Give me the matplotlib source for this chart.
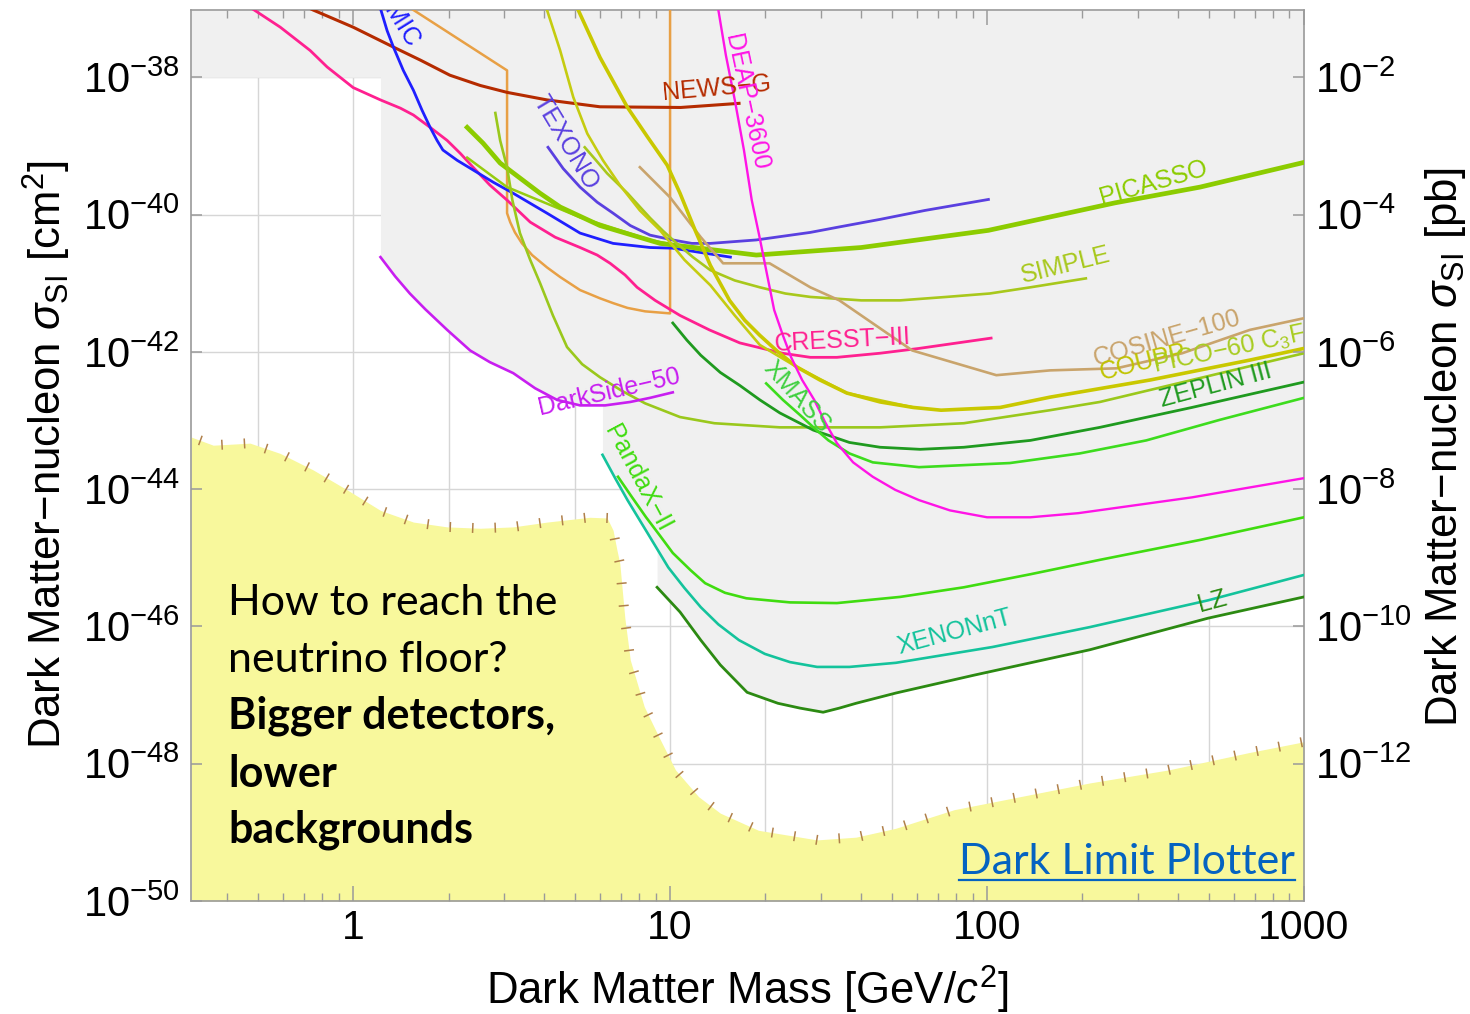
import numpy as np
import matplotlib
matplotlib.use("Agg")
import matplotlib.pyplot as plt
from matplotlib.ticker import FixedLocator, FuncFormatter, LogFormatterSciNotation, NullLocator
from matplotlib.collections import LineCollection

plt.rcParams['font.family'] = ['Liberation Sans', 'DejaVu Sans']
plt.rcParams['mathtext.fontset'] = 'custom'
plt.rcParams['mathtext.rm'] = 'Liberation Sans'
plt.rcParams['mathtext.it'] = 'Liberation Sans:italic'
plt.rcParams['mathtext.bf'] = 'Liberation Sans:bold'

# ---------------- limits: WIMP mass [GeV/c^2] and log10 sigma_SI [cm^2] ----------------
newsg_m = [0.60, 0.748, 1.00, 1.34, 1.63, 2.02, 2.52, 3.06, 4.09, 6.01, 10.8, 16.5]
newsg_ls = [-36.80, -37.02, -37.27, -37.56, -37.75, -37.97, -38.12, -38.22, -38.33, -38.43, -38.44, -38.38]

damic_m = [1.19, 1.22, 1.28, 1.34, 1.44, 1.55, 1.65, 1.75, 1.84, 1.92, 2.13, 2.39, 2.77, 3.20,
           4.09, 5.20, 6.61, 8.65, 10.2, 15.5]
damic_ls = [-36.85, -37.00, -37.32, -37.56, -37.90, -38.19, -38.48, -38.73, -38.92, -39.06, -39.21,
            -39.35, -39.53, -39.69, -39.98, -40.27, -40.42, -40.48, -40.49, -40.62]

texono_m = [4.12, 4.60, 5.20, 5.89, 6.61, 7.49, 8.65, 10.2, 11.7, 13.4, 18.7, 27.7, 34.2, 46.0, 63.7, 101]
texono_ls = [-39.02, -39.33, -39.60, -39.82, -39.98, -40.16, -40.30, -40.37, -40.42, -40.42, -40.37,
             -40.26, -40.18, -40.07, -39.94, -39.78]

cresst_m = [0.44, 0.48, 0.589, 0.732, 0.828, 1.00, 1.22, 1.41, 1.55, 1.75, 1.98, 2.18, 2.39, 2.70,
            3.06, 3.62, 4.34, 5.20, 5.89, 6.47, 7.21, 7.87, 8.97, 10.75, 13.3, 16.6, 22.6, 27.7,
            33.6, 46.0, 61.0, 103]
cresst_ls = [-36.88, -37.00, -37.27, -37.61, -37.85, -38.15, -38.33, -38.45, -38.55, -38.73, -38.92,
             -39.11, -39.31, -39.57, -39.79, -40.11, -40.33, -40.48, -40.59, -40.71, -40.88, -41.06,
             -41.25, -41.47, -41.68, -41.87, -42.02, -42.08, -42.08, -42.02, -41.95, -41.80]

lowmass_m = [1.39, 1.55, 3.06, 3.06, 3.13, 3.24, 3.41, 3.67, 4.09, 4.50, 5.20, 6.01, 6.61, 7.34,
             8.34, 10.0, 10.0]
lowmass_ls = [-36.88, -37.02, -37.90, -39.98, -40.11, -40.26, -40.42, -40.59, -40.77, -40.91, -41.10,
              -41.22, -41.29, -41.36, -41.41, -41.44, -36.90]

picasso_m = [2.29, 2.57, 2.91, 3.89, 4.50, 6.01, 9.30, 18.7, 40.1, 101, 253, 470, 1000]
picasso_ls = [-38.73, -38.96, -39.25, -39.69, -39.89, -40.16, -40.42, -40.59, -40.48, -40.23, -39.83,
              -39.60, -39.24]

bubble_m = [2.29, 3.06, 5.20, 8.65, 12.5, 19.2]
bubble_ls = [-39.17, -39.60, -40.04, -40.37, -40.52, -40.59]

simple_m = [5.38, 5.84, 6.33, 6.80, 7.34, 7.93, 8.65, 9.51, 10.5, 11.8, 13.4, 16.0, 19.2, 23.1,
            27.7, 40.1, 53.2, 74.4, 102, 137, 205]
simple_ls = [-39.02, -39.21, -39.40, -39.54, -39.69, -39.86, -40.05, -40.24, -40.42, -40.62, -40.81,
             -40.96, -41.06, -41.15, -41.20, -41.25, -41.25, -41.20, -41.15, -41.06, -40.93]

cosine_m = [8.03, 10.0, 12.5, 14.7, 20.6, 27.7, 34.2, 58.1, 107, 158, 256, 413, 675, 1000]
cosine_ls = [-39.31, -39.75, -40.33, -40.71, -40.71, -41.06, -41.25, -41.98, -42.34, -42.27, -42.24,
             -42.02, -41.68, -41.51]

coupp_m = [4.95, 5.13, 6.01, 7.34, 8.49, 9.79, 10.75, 12.0, 13.4, 15.4, 17.2, 19.2, 21.9, 25.1,
           29.7, 36.1, 46.0, 58.5, 71.6, 110, 158, 327, 675, 1000]
coupp_ls = [-36.88, -37.02, -37.71, -38.44, -38.87, -39.28, -39.69, -40.23, -40.74, -41.25, -41.54,
            -41.76, -42.00, -42.22, -42.41, -42.60, -42.73, -42.81, -42.85, -42.81, -42.66, -42.41,
            -42.12, -41.95]

picocf3i_m = [4.00, 4.09, 4.50, 4.95, 5.48, 6.14, 6.94, 8.03, 9.30, 11.1, 13.4, 16.0, 19.2, 25.1, 36.1, 58.5]
picocf3i_ls = [-36.90, -37.02, -37.61, -38.29, -38.82, -39.21, -39.57, -39.94, -40.23, -40.66, -41.03,
               -41.47, -41.90, -42.22, -42.60, -42.81]

pico60_m = [2.81, 2.91, 3.06, 3.18, 3.36, 3.62, 3.89, 4.27, 4.73, 5.28, 6.01, 7.06, 8.34, 10.75,
            13.8, 22.2, 46.0, 84.5, 158, 227, 443, 1000]
pico60_ls = [-38.52, -38.92, -39.31, -39.79, -40.27, -40.66, -41.00, -41.47, -41.93, -42.18, -42.37,
             -42.57, -42.75, -42.95, -43.04, -43.10, -43.10, -43.04, -42.85, -42.73, -42.41, -42.02]

zeplin_m = [10.2, 11.3, 12.5, 14.4, 16.6, 19.2, 22.2, 28.3, 36.8, 46.0, 61.5, 84.5, 137, 227, 443, 1000]
zeplin_ls = [-41.58, -41.83, -42.05, -42.30, -42.49, -42.70, -42.89, -43.14, -43.32, -43.39, -43.42,
             -43.39, -43.29, -43.10, -42.81, -42.44]

xmass_m = [20.1, 22.7, 25.7, 28.5, 31.6, 36.8, 43.6, 61.0, 118, 196, 318, 543, 1000]
xmass_ls = [-42.46, -42.70, -42.92, -43.11, -43.29, -43.48, -43.61, -43.68, -43.62, -43.48, -43.29,
            -42.99, -42.67]

deap_m = [13.9, 14.2, 15.0, 16.0, 17.1, 18.1, 19.1, 20.1, 21.3, 22.7, 24.1, 26.1, 28.5, 30.8, 33.6,
          37.8, 43.6, 51.3, 61.0, 76.4, 100, 137, 194, 443, 1000]
deap_ls = [-36.88, -37.02, -37.68, -38.33, -39.06, -39.79, -40.30, -40.81, -41.39, -41.76, -42.08,
           -42.41, -42.70, -43.02, -43.33, -43.61, -43.82, -44.01, -44.16, -44.31, -44.41, -44.41,
           -44.35, -44.12, -43.84]

darkside_m = [1.22, 1.357, 1.51, 1.69, 1.98, 2.34, 2.70, 3.20, 3.75, 4.40, 5.20, 6.24, 7.49, 8.65, 10.2]
darkside_ls = [-40.62, -40.90, -41.15, -41.38, -41.68, -41.98, -42.15, -42.31, -42.53, -42.70, -42.78,
               -42.78, -42.73, -42.67, -42.59]

pandax_m = [6.85, 7.59, 8.40, 9.30, 10.2, 11.6, 12.9, 14.9, 17.4, 23.9, 33.6, 53.2, 84.5, 137, 227, 470, 1000]
pandax_ls = [-43.82, -44.12, -44.41, -44.68, -44.93, -45.18, -45.37, -45.51, -45.59, -45.65, -45.66,
             -45.57, -45.43, -45.24, -45.03, -44.74, -44.41]

xenonnt_m = [6.12, 6.71, 7.34, 8.49, 9.87, 11.1, 12.5, 14.2, 16.5, 19.9, 23.9, 29.1, 36.8, 51.6,
             104, 211, 498, 1000]
xenonnt_ls = [-43.50, -43.84, -44.16, -44.64, -45.14, -45.44, -45.72, -45.97, -46.20, -46.40, -46.52,
              -46.59, -46.59, -46.53, -46.30, -46.01, -45.62, -45.25]

lz_m = [9.10, 10.75, 12.5, 14.4, 17.5, 21.9, 25.7, 30.4, 34.2, 38.6, 51.6, 91.0, 211, 498, 1000]
lz_ls = [-45.43, -45.79, -46.20, -46.56, -46.96, -47.12, -47.19, -47.25, -47.19, -47.12, -46.97,
         -46.71, -46.34, -45.88, -45.57]

# neutrino floor (upper edge of the yellow band)
floor_m = [0.308, 0.362, 0.473, 0.589, 0.748, 0.957, 1.22, 1.55, 1.98, 2.52, 3.20, 4.09, 5.58, 6.33,
           6.61, 6.80, 6.94, 7.20, 7.49, 8.29, 9.22, 10.4, 12.3, 14.4, 19.0, 29.1, 38.6, 51.6, 78.7,
           121, 211, 374, 667, 1000]
floor_ls = [-43.24, -43.36, -43.33, -43.48, -43.72, -44.01, -44.31, -44.48, -44.55, -44.57, -44.55,
            -44.48, -44.41, -44.42, -44.60, -44.89, -45.08, -45.88, -46.49, -47.17, -47.61, -48.09,
            -48.48, -48.72, -48.97, -49.11, -49.07, -48.94, -48.67, -48.50, -48.28, -48.09, -47.84, -47.68]

# lower edge of the combined excluded region
excl_m = [0.308, 1.22, 1.22, 1.357, 1.51, 1.69, 1.98, 2.34, 2.70, 3.20, 3.75, 4.40, 5.20, 6.12,
          6.12, 6.71, 7.34, 8.49, 9.10, 9.10, 10.75, 12.5, 14.4, 17.5, 21.9, 25.7, 30.4, 34.2, 38.6,
          51.6, 91.0, 211, 498, 1000]
excl_ls = [-38.0, -38.0, -40.62, -40.90, -41.15, -41.38, -41.68, -41.98, -42.15, -42.31, -42.53,
           -42.70, -42.78, -42.78, -43.50, -43.84, -44.16, -44.64, -44.88, -45.43, -45.79, -46.20,
           -46.56, -46.96, -47.12, -47.19, -47.25, -47.19, -47.12, -46.97, -46.71, -46.34, -45.88, -45.57]

x_ticks = [1, 10, 100, 1000]
y_ticks_exp = [-50, -48, -46, -44, -42, -40, -38]
x_grid = [0.5, 1, 2, 5, 10, 20, 50, 100, 200, 500]

XMIN, XMAX = 0.308, 1000
YMIN, YMAX = 1e-50, 10 ** -37.02

W, H = 1470, 1014
fig = plt.figure(figsize=(W / 100, H / 100), dpi=100)
ax = fig.add_axes([191 / W, 1 - 901 / H, (1304 - 191) / W, (901 - 10) / H])
ax.set_xscale('log')
ax.set_yscale('log')
ax.set_xlim(XMIN, XMAX)
ax.set_ylim(YMIN, YMAX)

def sig(ls):
    return 10.0 ** np.asarray(ls)

# grid
for g in x_grid:
    ax.axvline(g, color='#d6d6d6', lw=1.0, zorder=0.5)
for e in y_ticks_exp[1:]:
    ax.axhline(10.0 ** e, color='#d6d6d6', lw=1.0, zorder=0.5)

# excluded region and neutrino floor
ax.fill_between(excl_m, sig(excl_ls), YMAX, color='#f0f0f0', lw=0, zorder=1)
ax.fill_between(floor_m, sig(floor_ls), YMIN, color='#f8f89c', lw=0, zorder=1.2)

curves = [
    (lowmass_m, lowmass_ls, '#e8a045', 1.8),
    (newsg_m, newsg_ls, '#b52b00', 2.2),
    (cresst_m, cresst_ls, '#ff2090', 2.0),
    (damic_m, damic_ls, '#1f1fff', 2.0),
    (texono_m, texono_ls, '#5a40e0', 2.0),
    (bubble_m, bubble_ls, '#96cc10', 1.8),
    (picasso_m, picasso_ls, '#8ccc00', 3.4),
    (simple_m, simple_ls, '#a8c81c', 1.9),
    (cosine_m, cosine_ls, '#c9a46c', 1.9),
    (picocf3i_m, picocf3i_ls, '#c5cc10', 1.9),
    (coupp_m, coupp_ls, '#c9c800', 2.6),
    (pico60_m, pico60_ls, '#9ac81c', 1.9),
    (darkside_m, darkside_ls, '#c81ef0', 1.9),
    (zeplin_m, zeplin_ls, '#1f9a1f', 2.0),
    (xmass_m, xmass_ls, '#3ddc1e', 1.9),
    (deap_m, deap_ls, '#ff14e6', 1.7),
    (pandax_m, pandax_ls, '#40dc10', 1.9),
    (xenonnt_m, xenonnt_ls, '#14c39c', 1.9),
    (lz_m, lz_ls, '#2c8a12', 2.0),
]
for m, ls, c, lw in curves:
    ax.plot(m, sig(ls), color=c, lw=lw, zorder=3, solid_joinstyle='round')

# hatch marks along the neutrino floor, spaced evenly along the drawn edge
pts = ax.transData.transform(np.column_stack([floor_m, sig(floor_ls)]))
seg = np.diff(pts, axis=0)
seglen = np.hypot(seg[:, 0], seg[:, 1])
cum = np.concatenate([[0], np.cumsum(seglen)])
inv = ax.transData.inverted()
marks = []
for s in np.arange(10.0, cum[-1], 22.5):
    i = min(np.searchsorted(cum, s) - 1, len(seg) - 1)
    f = (s - cum[i]) / seglen[i]
    p = pts[i] + f * seg[i]
    t = seg[i] / seglen[i]
    n = np.array([-t[1], t[0]])
    marks.append([inv.transform(p - 5 * n), inv.transform(p + 5 * n)])
ax.add_collection(LineCollection(marks, colors='#b0804a', linewidths=1.1, zorder=1.5))

# experiment labels
lab = dict(fontsize=18, ha='center', va='center', rotation_mode='anchor', zorder=4, clip_on=True)
ax.text(1.55, 10 ** -37.53, 'DAMIC', color='#1f1fff', rotation=-58, **{**lab, 'ha': 'right'})
ax.text(4.70, 10 ** -38.95, 'TEXONO', color='#5a40e0', rotation=-59, **lab)
ax.text(14.0, 10 ** -38.16, 'NEWS\u2212G', color='#b52b00', rotation=5, **lab)
ax.text(17.4, 10 ** -38.36, 'DEAP\u22123600', color='#ff14e6', rotation=-78, **lab)
ax.text(334, 10 ** -39.54, 'PICASSO', color='#8ccc00', rotation=16, **lab)
ax.text(177, 10 ** -40.74, 'SIMPLE', color='#a8c81c', rotation=14, **lab)
ax.text(35.1, 10 ** -41.83, 'CRESST\u2212III', color='#ff2090', rotation=3, **lab)
ax.text(370, 10 ** -41.80, 'COSINE\u2212100', color='#c9a46c', rotation=16, **lab)
ax.text(311, 10 ** -42.16, 'COUPP', color='#c0c400', rotation=14, **lab)
ax.text(334, 10 ** -42.21, 'PICO\u221260 C$_3$F$_8$', color='#a8cc20', rotation=12,
        **{**lab, 'ha': 'left'})
ax.text(528, 10 ** -42.49, 'ZEPLIN III', color='#1f9a1f', rotation=15, **lab)
ax.text(25.2, 10 ** -42.65, 'XMASS', color='#40d040', rotation=-48, **lab)
ax.text(6.42, 10 ** -42.59, 'DarkSide\u221250', color='#c81ef0', rotation=13, **lab)
ax.text(7.93, 10 ** -43.84, 'PandaX\u2212II', color='#40dc10', rotation=-62, **lab)
ax.text(79.3, 10 ** -46.08, 'XENONnT', color='#14c39c', rotation=15, **lab)
ax.text(513, 10 ** -45.63, 'LZ', color='#2c8a12', rotation=15, **lab)

# axes styling
frame = '#9a9a9a'
for sp in ax.spines.values():
    sp.set_color(frame)
    sp.set_linewidth(1.2)
ax.xaxis.set_major_locator(FixedLocator(x_ticks))
ax.xaxis.set_major_formatter(FuncFormatter(lambda v, p: f'{v:g}'))
ax.xaxis.set_minor_locator(FixedLocator([k * 10.0 ** d for d in range(-1, 3) for k in range(2, 10)]))
ax.yaxis.set_major_locator(FixedLocator([10.0 ** e for e in y_ticks_exp]))
ax.yaxis.set_major_formatter(LogFormatterSciNotation())
ax.yaxis.set_minor_locator(NullLocator())
ax.tick_params(axis='x', which='major', direction='in', top=True, length=11, width=1.1,
               color=frame, labelsize=29.5, pad=6)
ax.tick_params(axis='x', which='minor', direction='in', top=True, length=6, width=1.0, color=frame)
ax.tick_params(axis='y', which='major', direction='in', length=8, width=1.1, color=frame,
               labelsize=30, pad=8)

ax2 = ax.twinx()
ax2.set_yscale('log')
ax2.set_ylim(YMIN * 1e36, YMAX * 1e36)
ax2.yaxis.set_major_locator(FixedLocator([10.0 ** (e + 36) for e in y_ticks_exp[1:]]))
ax2.yaxis.set_major_formatter(LogFormatterSciNotation())
ax2.yaxis.set_minor_locator(NullLocator())
ax2.tick_params(axis='y', which='major', direction='in', length=8, width=1.1, color=frame,
                labelsize=30, pad=8)
for sp in ax2.spines.values():
    sp.set_visible(False)

# axis titles
fig.text(747 / W, 1 - 990 / H, 'Dark Matter Mass [GeV/$c^2$]', fontsize=31.5, ha='center', va='center')
fig.text(47 / W, 1 - 455 / H, 'Dark Matter\u2212nucleon $\\sigma_{\\mathrm{SI}}$ [cm$^2$]',
         fontsize=31.5, ha='center', va='center', rotation=90)
fig.text(1445 / W, 1 - 447 / H, 'Dark Matter\u2212nucleon $\\sigma_{\\mathrm{SI}}$ [pb]',
         fontsize=31.5, ha='center', va='center', rotation=90)

# annotation in the neutrino-floor band
note = dict(family='Lato', fontsize=31, ha='left', va='baseline', color='black')
fig.text(228 / W, 1 - 615 / H, 'How to reach the', **note)
fig.text(228 / W, 1 - 672 / H, 'neutrino floor?', **note)
fig.text(228 / W, 1 - 729 / H, 'Bigger detectors,', weight='bold', **note)
fig.text(228 / W, 1 - 787 / H, 'lower', weight='bold', **note)
fig.text(228 / W, 1 - 843 / H, 'backgrounds', weight='bold', **note)

link = fig.text(1295 / W, 1 - 874 / H, 'Dark Limit Plotter', family='Lato', fontsize=31,
                ha='right', va='baseline', color='#0563c1')
renderer = fig.canvas.get_renderer()
bb = link.get_window_extent(renderer)
fig.add_artist(plt.Line2D([bb.x0 / W, bb.x1 / W], [1 - 880 / H, 1 - 880 / H],
                          color='#0563c1', lw=1.6, transform=fig.transFigure))

fig.savefig('out.png', dpi=100)
